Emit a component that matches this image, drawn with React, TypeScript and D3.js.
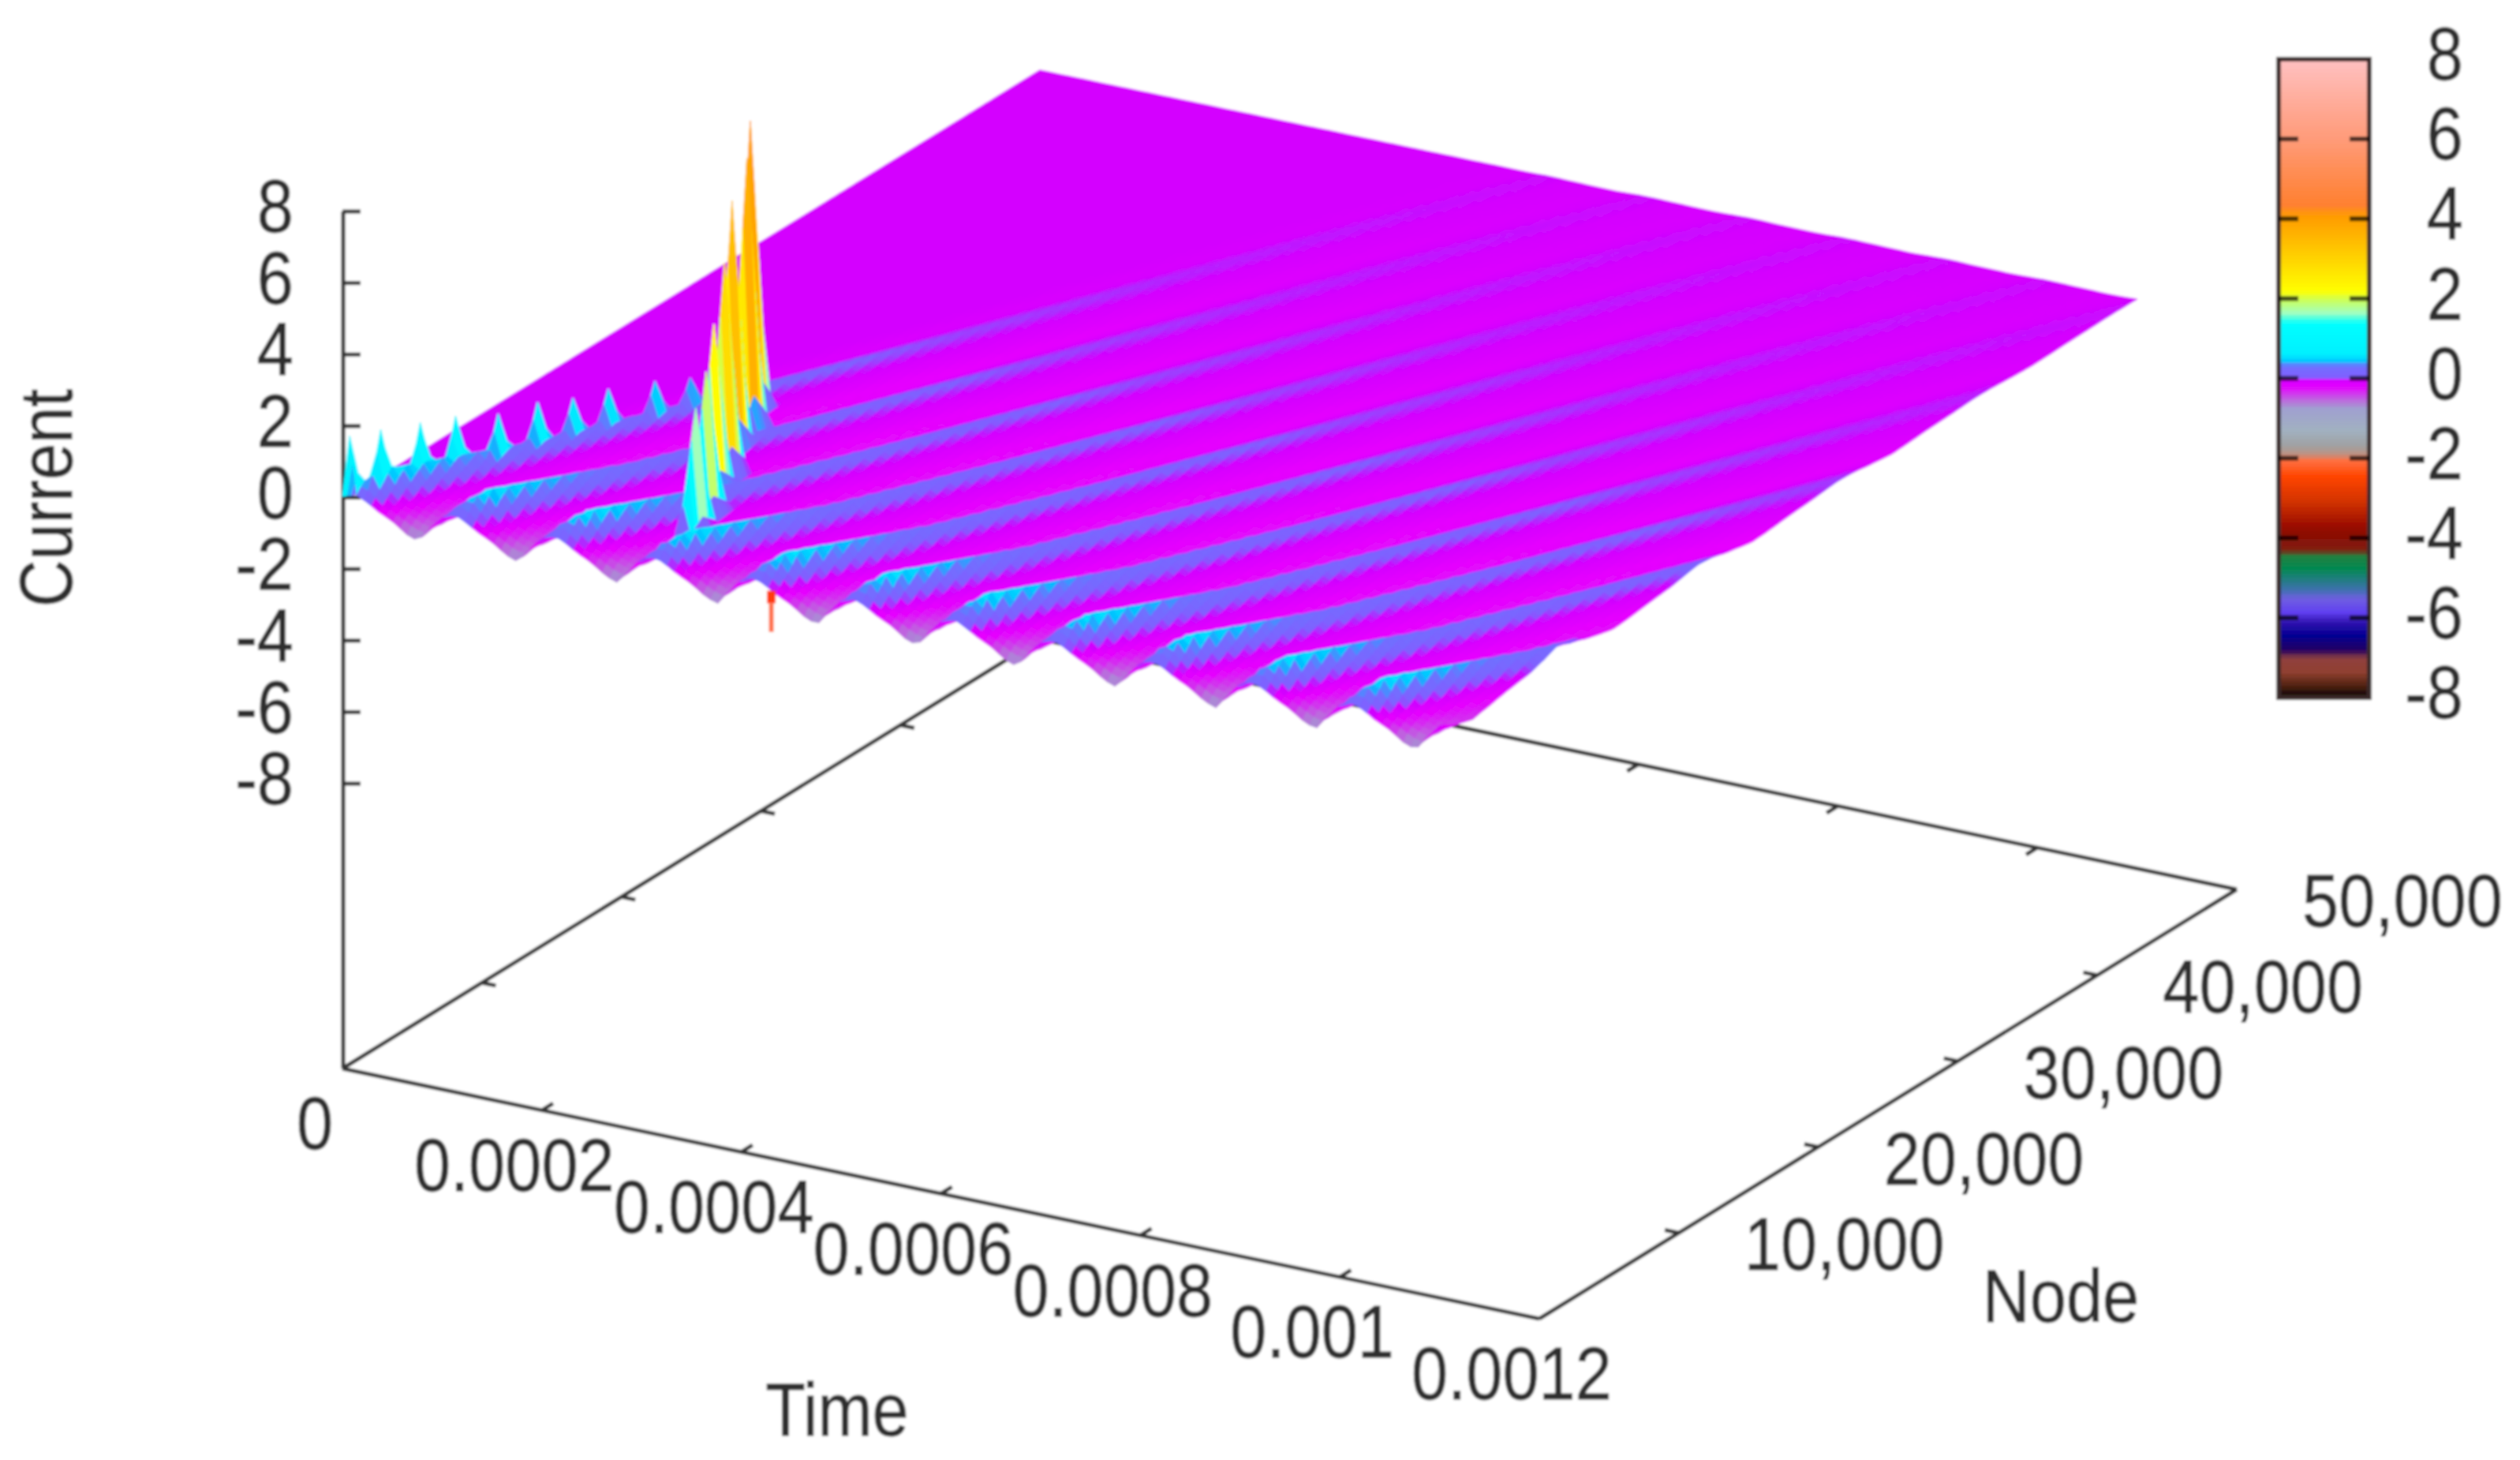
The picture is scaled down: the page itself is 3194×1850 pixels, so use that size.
import React, { useEffect, useRef } from 'react';
import * as d3 from 'd3';

// Axis ticks
const timeTicks = [0, 0.0002, 0.0004, 0.0006, 0.0008, 0.001, 0.0012];
const timeLabels = ['0', '0.0002', '0.0004', '0.0006', '0.0008', '0.001', '0.0012'];
const nodeTicks = [10000, 20000, 30000, 40000, 50000];
const nodeLabels = ['10,000', '20,000', '30,000', '40,000', '50,000'];
const currentTicks = [-8, -6, -4, -2, 0, 2, 4, 6, 8];

const cbZ = [-8, -7.7, -7.35, -7, -6.8, -6.45, -6.1, -5.85, -5.5, -5.3, -4.75, -4.45, -4.3, -3.8, -3.1, -2.45, -2.05, -1.9, -1.7, -1.3, -0.75, -0.5, -0.2, -0.05, 0.05, 0.33, 0.43, 0.6, 1.4, 1.65, 2, 2.19, 4.1, 4.35, 6, 8];
const cbColours = ['#000000', '#502010', '#904030', '#904040', '#200060', '#000090', '#3010b0', '#6040f0', '#7060e0', '#4070b0', '#008850', '#208040', '#802010', '#900800', '#d03000', '#ff4500', '#ff7040', '#c09080', '#a0a0a0', '#a0b0c0', '#a0a0d0', '#c060e0', '#e600ff', '#d400ff', '#8060ff', '#7070ff', '#00c0ff', '#00f0ff', '#00ffff', '#a0ffc0', '#d0ff50', '#ffff00', '#ff9900', '#ff8030', '#ff9a78', '#ffc0c0'];

// Pulse shape inside one 0.0001 period
const phaseStops = [0, 0.05, 0.15, 0.25, 0.35, 0.5, 0.65, 0.76, 0.85, 0.95, 1];
const ridgeShape = [0.4, 0.8, 1, 0.45, 0.1, 0, 0, 0, 0, 0.05, 0.4];
const valleyShape = [0, 0, 0, 0.05, 0.2, 0.45, 0.85, 1, 0.55, 0.1, 0];

// How the ridge and the valley change along the line
const ridgeNodes = [0, 500, 1500, 4000, 7500, 15000, 25000, 35000, 45000, 50000];
const ridgePeak = [0.2, 0.5, 0.72, 0.55, 0.32, 0.17, 0.08, 0.04, 0.02, 0.01];
const valleyNodes = [0, 500, 1500, 3000, 5000, 15000, 30000, 40000, 50000];
const valleyDepth = [-0.72, -0.5, -0.36, -0.28, -0.22, -0.2, -0.12, -0.06, -0.02];

// Narrow teeth on the first ridge
const toothNodes = [0, 1150, 2850, 4400, 6050, 7650, 9350, 10850, 12650, 14150];
const toothHeights = [1.76, 1.73, 1.58, 1.49, 1.31, 1.29, 1.13, 1.11, 1.02, 0.84];

// The tall spike
const spikeNodes = [3500, 5500, 7450, 9400, 11400, 13400, 15350];
const spikeTimes = [0.000306, 0.000288, 0.000269, 0.000251, 0.000233, 0.000215, 0.000196];
const spikeHeights = [3.4, 3.9, 4.6, 5.8, 6.9, 7.5, 8];

// Small downward stroke under the front edge
const dropTime = 0.00043;
const dropZ = [-0.1, -0.45, -1.25];

const App: React.FC = () => {
  const svgRef = useRef<SVGSVGElement>(null);

  useEffect(() => {
    if (!svgRef.current) return;
    const svg = d3.select(svgRef.current);
    svg.selectAll('*').remove();

    const defs = svg.append('defs');
    defs.append('filter').attr('id', 'soft')
      .attr('x', '0').attr('y', '0').attr('width', '1').attr('height', '1')
      .attr('filterUnits', 'objectBoundingBox')
      .append('feGaussianBlur').attr('stdDeviation', 1.6);

    const root = svg.append('g').attr('filter', 'url(#soft)');
    root.append('rect').attr('width', 3194).attr('height', 1850).attr('fill', '#fff');

    // Projection: each axis has its own screen scale, added up
    const timeX = d3.scaleLinear().domain([0, 0.0012]).range([0, 1517]);
    const timeY = d3.scaleLinear().domain([0, 0.0012]).range([0, 317]);
    const nodeX = d3.scaleLinear().domain([0, 50000]).range([0, 884]);
    const nodeY = d3.scaleLinear().domain([0, 50000]).range([0, -544]);
    const zY = d3.scaleLinear().domain([-8, 8]).range([993, 268]);
    const originX = 434;
    const floorY = 1354;

    const px = (t: number, n: number) => originX + timeX(t) + nodeX(n);
    const py = (t: number, n: number, z: number) => zY(z) + timeY(t) + nodeY(n);
    const fx = px;
    const fy = (t: number, n: number) => floorY + timeY(t) + nodeY(n);

    const colour = d3.scaleLinear<string>().domain(cbZ).range(cbColours).clamp(true);

    const ink = '#2e2e2e';
    const label = (g: any, s: string, x: number, y: number, anchor = 'middle', rotate = 0) => {
      g.append('text')
        .attr('transform', `translate(${x},${y}) rotate(${rotate}) scale(1,1.15)`)
        .attr('dy', '0.358em')
        .attr('text-anchor', anchor)
        .attr('font-family', '"Liberation Sans", Arial, sans-serif')
        .attr('font-size', 83)
        .attr('fill', ink)
        .attr('stroke', ink)
        .attr('stroke-width', 0.8)
        .text(s);
    };

    // Floor box and ticks
    const axes = root.append('g').attr('stroke', '#333').attr('stroke-width', 5).attr('fill', 'none');
    const seg = (x1: number, y1: number, x2: number, y2: number) =>
      axes.append('line').attr('x1', x1).attr('y1', y1).attr('x2', x2).attr('y2', y2);

    seg(fx(0, 0), fy(0, 0), fx(0.0012, 0), fy(0.0012, 0));
    seg(fx(0.0012, 0), fy(0.0012, 0), fx(0.0012, 50000), fy(0.0012, 50000));
    seg(fx(0.0012, 50000), fy(0.0012, 50000), fx(0, 50000), fy(0, 50000));
    seg(fx(0, 50000), fy(0, 50000), fx(0, 0), fy(0, 0));
    seg(originX + 1, zY(8), originX + 1, floorY);

    currentTicks.forEach(v => seg(originX, zY(v), originX + 23, zY(v)));
    timeTicks.slice(1, -1).forEach(t => {
      seg(fx(t, 0), fy(t, 0), fx(t, 800), fy(t, 800));
      seg(fx(t, 50000), fy(t, 50000), fx(t, 49200), fy(t, 49200));
    });
    nodeTicks.slice(0, -1).forEach(n => {
      seg(fx(0, n), fy(0, n), fx(0.000014, n), fy(0.000014, n));
      seg(fx(0.0012, n), fy(0.0012, n), fx(0.001186, n), fy(0.001186, n));
    });

    // Surface grid
    const rows = 168;
    const cols = 153;
    const tEnd = 0.0011;
    const dt = tEnd / (cols - 1);
    const dn = 50000 / (rows - 1);
    const times = d3.range(cols).map(i => i * dt);
    const nodes = d3.range(rows).map(j => j * dn);

    const ridgeAt = d3.scaleLinear().domain(ridgeNodes).range(ridgePeak).clamp(true);
    const valleyAt = d3.scaleLinear().domain(valleyNodes).range(valleyDepth).clamp(true);
    const ridgeLook = d3.scaleLinear().domain(phaseStops).range(ridgeShape);
    const valleyLook = d3.scaleLinear().domain(phaseStops).range(valleyShape);
    const arrival = d3.scaleLinear().domain([-0.35, 0]).range([0, 1]).clamp(true);

    const lagPerNode = 1e-8;
    const period = 0.0001;
    const baseZ = -0.05;

    const grid = nodes.map(n => times.map(t => {
      const phase = (t - lagPerNode * n) / period;
      const frac = phase - Math.floor(phase);
      const fade = arrival(phase);
      return baseZ + fade * (ridgeAt(n) * ridgeLook(frac) + valleyAt(n) * valleyLook(frac));
    }));

    const addPeak = (t: number, n: number, h: number, halfWidth: number, side: number) => {
      const i = Math.round(t / dt);
      const j = Math.round(n / dn);
      d3.range(-halfWidth, halfWidth + 1).forEach(o => {
        const row = grid[j + o];
        if (!row) return;
        const k = 1 - Math.abs(o) / (halfWidth + 1);
        if (row[i] !== undefined) row[i] = Math.max(row[i], h * k);
        if (side > 0) {
          if (row[i + 1] !== undefined) row[i + 1] = Math.max(row[i + 1], h * k * side);
          if (row[i - 1] !== undefined) row[i - 1] = Math.max(row[i - 1], h * k * side);
        }
      });
    };

    toothNodes.forEach((n, idx) => addPeak(lagPerNode * n + 0.00001, n, toothHeights[idx], 2, 0));
    spikeNodes.forEach((n, idx) => addPeak(spikeTimes[idx], n, spikeHeights[idx], 3, 0.12));

    // Painter's order: far corner first, front corner last
    const surface = root.append('g').attr('stroke-width', 1.2).attr('stroke-linejoin', 'round');
    for (let j = rows - 2; j >= 0; j--) {
      for (let i = 0; i < cols - 1; i++) {
        const corners: [number, number, number][] = [
          [times[i], nodes[j], grid[j][i]],
          [times[i + 1], nodes[j], grid[j][i + 1]],
          [times[i + 1], nodes[j + 1], grid[j + 1][i + 1]],
          [times[i], nodes[j + 1], grid[j + 1][i]],
        ];
        const mean = d3.mean(corners, c => c[2]) as number;
        const c = colour(mean);
        const d = 'M' + corners.map(p => `${px(p[0], p[1]).toFixed(1)},${py(p[0], p[1], p[2]).toFixed(1)}`).join('L') + 'Z';
        surface.append('path').attr('d', d).attr('fill', c).attr('stroke', c);
      }
    }

    root.append('line')
      .attr('x1', px(dropTime, 0)).attr('y1', py(dropTime, 0, dropZ[0]))
      .attr('x2', px(dropTime, 0)).attr('y2', py(dropTime, 0, dropZ[1]))
      .attr('stroke', '#ff3a10').attr('stroke-width', 11);
    root.append('line')
      .attr('x1', px(dropTime, 0)).attr('y1', py(dropTime, 0, dropZ[1]))
      .attr('x2', px(dropTime, 0)).attr('y2', py(dropTime, 0, dropZ[2]))
      .attr('stroke', '#ff7048').attr('stroke-width', 6);

    // Tick labels
    currentTicks.forEach(v => label(root, String(v), 372, zY(v) - 8, 'end'));
    timeTicks.forEach((t, i) => label(root, timeLabels[i], fx(t, 0) - 35, fy(t, 0) + 68));
    nodeTicks.forEach((n, i) => label(root, nodeLabels[i], fx(0.0012, n) + 210, fy(0.0012, n) + 13));

    label(root, 'Time', 1061, 1785);
    label(root, 'Node', 2612, 1641);
    label(root, 'Current', 57, 631, 'middle', -90);

    // Colour box
    const cbY = d3.scaleLinear().domain([-8, 8]).range([884, 75]);
    const cbX = 2888;
    const cbW = 115;
    const box = root.append('g');
    box.selectAll('rect')
      .data(d3.range(-8, 8, 0.1))
      .enter()
      .append('rect')
      .attr('x', cbX)
      .attr('width', cbW)
      .attr('y', d => cbY(d + 0.1))
      .attr('height', d => cbY(d) - cbY(d + 0.1) + 0.6)
      .attr('fill', d => colour(d + 0.05));
    box.append('rect')
      .attr('x', cbX).attr('y', cbY(8)).attr('width', cbW).attr('height', cbY(-8) - cbY(8))
      .attr('fill', 'none').attr('stroke', '#3a2a2a').attr('stroke-width', 6);
    currentTicks.slice(1, -1).forEach(v => {
      [[cbX, cbX + 25], [cbX + cbW - 25, cbX + cbW]].forEach(([a, b]) => {
        box.append('line').attr('x1', a).attr('x2', b)
          .attr('y1', cbY(v)).attr('y2', cbY(v))
          .attr('stroke', '#000').attr('stroke-opacity', 0.7).attr('stroke-width', 6);
      });
    });
    currentTicks.forEach(v => label(root, String(v), 3122, cbY(v) - 8, 'end'));
  }, []);

  return (
    <svg
      ref={svgRef}
      width={3194}
      height={1850}
      style={{ position: 'absolute', left: 0, top: 0, display: 'block' }}
    />
  );
};

export default App;
